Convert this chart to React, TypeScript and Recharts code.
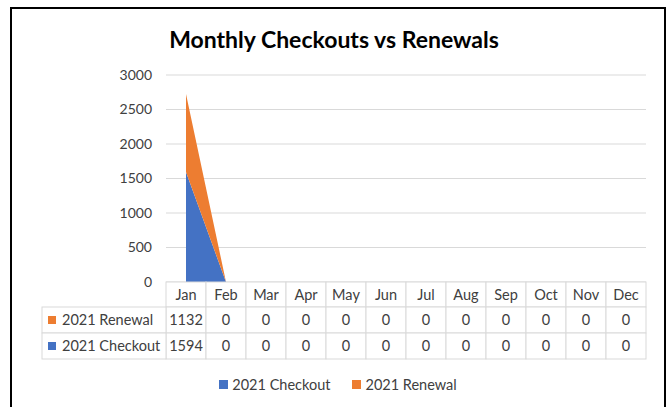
import { Area, AreaChart, CartesianGrid, Legend, XAxis, YAxis } from "recharts";

const months = ["Jan", "Feb", "Mar", "Apr", "May", "Jun", "Jul", "Aug", "Sep", "Oct", "Nov", "Dec"];
const checkouts = [1594, 0, 0, 0, 0, 0, 0, 0, 0, 0, 0, 0];
const renewals = [1132, 0, 0, 0, 0, 0, 0, 0, 0, 0, 0, 0];
const yTicks = [0, 500, 1000, 1500, 2000, 2500, 3000];

const CHECKOUT_COLOR = "#4472C4";
const RENEWAL_COLOR = "#ED7D31";
const BORDER = "#d9d9d9";
const TEXT = "#404040";
const FONT = "Lato, 'Open Sans', sans-serif";

const COL_W = 40;
const HEAD_H = 25;
const ROW_H = 26;
const LABEL_W = 124;

const data = months.map((m, i) => ({
  month: m,
  checkout: checkouts[i],
  renewal: renewals[i],
}));

// rows of the data table, top to bottom (same order Excel uses)
const tableRows = [
  { name: "2021 Renewal", color: RENEWAL_COLOR, values: renewals },
  { name: "2021 Checkout", color: CHECKOUT_COLOR, values: checkouts },
];

function TableTick(props: any) {
  const { x, y, payload, index } = props;
  const left = x - COL_W / 2;
  return (
    <g fontFamily={FONT} fontSize={14.5} fill={TEXT}>
      <rect x={left} y={y} width={COL_W} height={HEAD_H} fill="#fff" stroke={BORDER} />
      <text x={x} y={y + 18} textAnchor="middle" fill={TEXT}>
        {payload.value}
      </text>
      {tableRows.map((row, r) => {
        const top = y + HEAD_H + r * ROW_H;
        return (
          <g key={row.name}>
            <rect x={left} y={top} width={COL_W} height={ROW_H} fill="#fff" stroke={BORDER} />
            <text x={x} y={top + 18} textAnchor="middle" fill={TEXT}>
              {row.values[index]}
            </text>
            {index === 0 ? (
              <g>
                <rect x={left - LABEL_W} y={top} width={LABEL_W} height={ROW_H} fill="#fff" stroke={BORDER} />
                <rect x={left - LABEL_W + 6} y={top + 9} width={8} height={8} fill={row.color} />
                <text x={left - LABEL_W + 20} y={top + 18} fill={TEXT}>
                  {row.name}
                </text>
              </g>
            ) : null}
          </g>
        );
      })}
    </g>
  );
}

function BottomLegend(props: any) {
  const items = props.payload || [];
  return (
    <div style={{ display: "flex", justifyContent: "center", gap: 22, fontFamily: FONT, fontSize: 14.5, color: TEXT }}>
      {items.map((it: any) => (
        <div key={it.value} style={{ display: "flex", alignItems: "center" }}>
          <span style={{ display: "inline-block", width: 9, height: 9, background: it.color, marginRight: 4 }} />
          <span>{it.value}</span>
        </div>
      ))}
    </div>
  );
}

export default function App() {
  return (
    <div
      style={{
        position: "absolute",
        left: 0,
        top: 0,
        width: 668,
        height: 407,
        overflow: "hidden",
        background: "#fff",
        fontFamily: FONT,
      }}
    >
      <div
        style={{
          position: "absolute",
          left: 10,
          top: 7,
          width: 652,
          height: 430,
          border: "2px solid #000",
        }}
      />
      <div
        style={{
          position: "absolute",
          left: 0,
          top: 25,
          width: 668,
          textAlign: "center",
          fontSize: 23,
          fontWeight: 700,
          lineHeight: "28px",
          color: "#000",
        }}
      >
        Monthly Checkouts vs Renewals
      </div>
      <div style={{ position: "absolute", left: 0, top: 0 }}>
        <AreaChart width={668} height={407} data={data} margin={{ top: 75, right: 22, bottom: 28, left: 106 }}>
          <CartesianGrid vertical={false} stroke={BORDER} />
          <XAxis
            dataKey="month"
            height={80}
            padding={{ left: COL_W / 2, right: COL_W / 2 }}
            axisLine={false}
            tickLine={false}
            tickSize={0}
            tickMargin={0}
            interval={0}
            tick={<TableTick />}
          />
          <YAxis
            width={60}
            domain={[0, 3000]}
            ticks={yTicks}
            axisLine={false}
            tickLine={false}
            tickMargin={8}
            tick={{ fill: TEXT, fontSize: 14, fontFamily: FONT }}
          />
          <Area
            type="linear"
            dataKey="checkout"
            name="2021 Checkout"
            stackId="1"
            stroke="none"
            fill={CHECKOUT_COLOR}
            fillOpacity={1}
            isAnimationActive={false}
          />
          <Area
            type="linear"
            dataKey="renewal"
            name="2021 Renewal"
            stackId="1"
            stroke="none"
            fill={RENEWAL_COLOR}
            fillOpacity={1}
            isAnimationActive={false}
          />
          <Legend
            content={<BottomLegend />}
            wrapperStyle={{ position: "absolute", top: 376, left: 4, width: 668 }}
          />
        </AreaChart>
      </div>
    </div>
  );
}
